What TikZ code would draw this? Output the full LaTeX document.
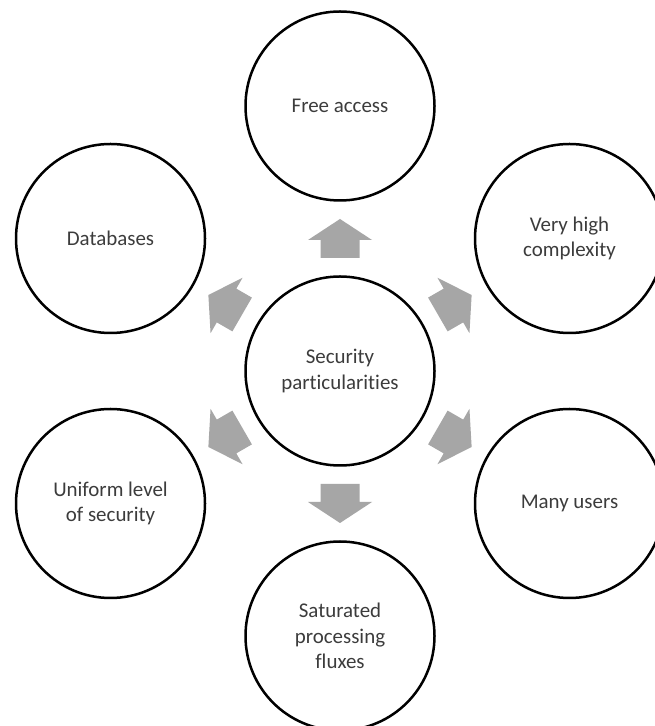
\documentclass[tikz,border=0pt]{standalone}
\usepackage{fontspec}
\setmainfont{Carlito}[Ligatures=NoCommon]
\usetikzlibrary{calc}
\definecolor{ringtext}{RGB}{60,60,60}
\definecolor{arrowgray}{RGB}{166,166,166}
\tikzset{
  topic/.style={circle, draw=black, line width=2.5bp, fill=white,
    minimum size=189bp, inner sep=0pt, align=center, text=ringtext,
    font=\fontsize{21}{25.5}\selectfont},
  % wide-headed block arrow, pointing along +x, centred on the origin
  pics/blockarrow/.style={code={
    \fill[arrowgray] (-19.5,-19.5) -- (-1.5,-19.5) -- (-1.5,-32) -- (19.5,0)
      -- (-1.5,32) -- (-1.5,19.5) -- (-19.5,19.5) -- cycle;}}
}
\begin{document}
\begin{tikzpicture}[x=1bp,y=1bp]
\useasboundingbox (0,0) rectangle (655,726);
\clip (0,0) rectangle (655,726);
\fill[white] (0,0) rectangle (655,726);

\node[topic] (c) at (340,355) {Security\\particularities};
\node[topic] (fa) at ($(c)+(90:265)$)  {Free access};
\node[topic] (db) at ($(c)+(150:265)$) {Databases};
\node[topic] (us) at ($(c)+(210:265)$) {Uniform level\\of security};
\node[topic] (sp) at ($(c)+(270:265)$) {Saturated\\processing\\fluxes};
\node[topic] (mu) at ($(c)+(330:265)$) {Many users};
\node[topic] (hc) at ($(c)+(30:265)$)  {Very high\\complexity};

\pic[rotate=90]  at ($(c)!0.5!(fa)$) {blockarrow};
\pic[rotate=150] at ($(c)!0.5!(db)$) {blockarrow};
\pic[rotate=210] at ($(c)!0.5!(us)$) {blockarrow};
\pic[rotate=270] at ($(c)!0.5!(sp)$) {blockarrow};
\pic[rotate=330] at ($(c)!0.5!(mu)$) {blockarrow};
\pic[rotate=30]  at ($(c)!0.5!(hc)$) {blockarrow};
\end{tikzpicture}
\end{document}
